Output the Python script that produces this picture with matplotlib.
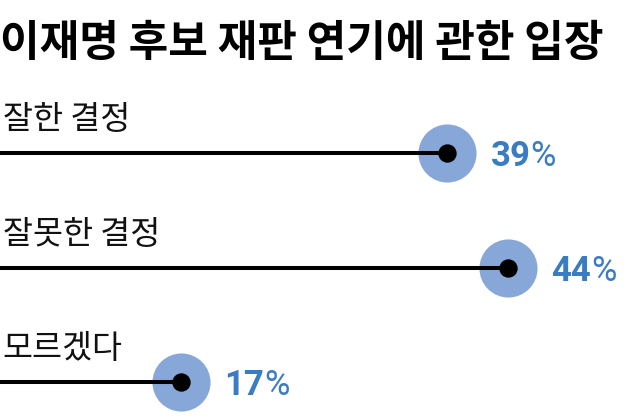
import matplotlib
matplotlib.use("Agg")
import matplotlib.pyplot as plt
import numpy as np

# 데이터
title = "이재명 후보 재판 연기에 관한 입장"
categories = ["잘한 결정", "잘못한 결정", "모르겠다"]
values = [39, 44, 17]

plt.rcParams['font.family'] = ['Noto Sans CJK KR', 'DejaVu Sans']

fig = plt.figure(figsize=(6.4, 4.19), dpi=100)
ax = fig.add_axes([0, 0, 1, 1])
ax.set_xlim(2.06, 54.9)
ax.set_ylim(2.323, -1.336)
ax.axis('off')

rows = np.arange(len(categories))

# 선
ax.hlines(rows, 0, values, color='black', linewidth=2.9, zorder=2)
# 큰 원 + 점
ax.scatter(values, rows, s=1750, color='#87a7d8', zorder=1, linewidths=0)
ax.scatter(values, rows, s=175, color='black', zorder=3, linewidths=0)

for i, (cat, v) in enumerate(zip(categories, values)):
    ax.annotate(cat, xy=(ax.get_xlim()[0], i), xytext=(2, 12),
                textcoords='offset points', ha='left', va='bottom',
                fontsize=23.5, color='#111111')
    t = ax.annotate(str(v), xy=(v, i), xytext=(31, 0),
                    textcoords='offset points', ha='left',
                    va='center_baseline', fontsize=25, fontweight='bold',
                    family=['Roboto', 'DejaVu Sans'], color='#3a7cc2')
    ax.annotate('%', xy=(1, 0), xycoords=t, ha='left', va='bottom',
                fontsize=25, family=['Roboto', 'DejaVu Sans'],
                color='#3a7cc2')

fig.text(0.0, 0.898, title, ha='left', va='center', fontsize=31,
         fontweight='heavy', color='black')

fig.savefig('out.png', dpi=100, facecolor='white')
